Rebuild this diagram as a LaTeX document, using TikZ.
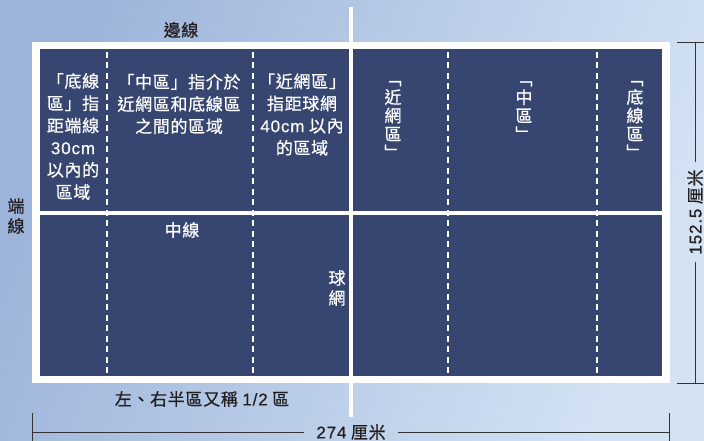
\documentclass[tikz,border=0pt]{standalone}
\usepackage{fontspec}
\setmainfont{Noto Sans CJK TC}[LetterSpace=4, FakeBold=0.6]
\newfontfamily\lat{Liberation Sans}[LetterSpace=5, FakeBold=0.5]
\definecolor{navy}{HTML}{374670}
\definecolor{txtdark}{HTML}{231F20}
\definecolor{bgA}{HTML}{9DB4DA}
\definecolor{bgB}{HTML}{D4E3F4}
\definecolor{dimc}{HTML}{333333}
\tikzset{
  wt/.style={text=white, font=\fontsize{17}{22.2}\selectfont, inner sep=0pt, align=center},
  dk/.style={text=txtdark, font=\fontsize{17}{22}\selectfont, inner sep=0pt, align=center},
  vt/.style={text=white, font=\fontsize{17}{18.5}\selectfont, inner sep=0pt, align=center},
  vd/.style={font=\fontsize{17}{20}\selectfont, inner sep=0pt, align=center},
  zone/.style={white, line width=2pt, dash pattern=on 6pt off 4.5pt},
  wline/.style={white, line width=4pt},
  dim/.style={dimc, line width=0.9pt},
}
\begin{document}
\begin{tikzpicture}[x=1pt,y=-1pt]
\useasboundingbox (0,0) rectangle (704,441);
% background
\shade[left color=bgA, right color=bgB, shading angle=70] (0,0) rectangle (704,441);
% court
\fill[white] (32,42) rectangle (670,383);
\fill[navy] (40,49) rectangle (662,376);
% zone dashed lines
\foreach \xx in {107,253,448,597} \draw[zone] (\xx,52) -- (\xx,376);
% center line
\draw[wline] (40,213) -- (662,213);
% net
\draw[wline] (351,7) -- (351,417);
% left half texts
\node[wt] (t1) at (73,136.5) {「底線\\區」指\\距端線\\{\lat 30cm}\\以內的\\區域};
\node[wt] (t2) at (179,104) {「中區」指介於\\近網區和底線區\\之間的區域};
\node[wt] (t3) at (302,114.5) {「近網區」\\指距球網\\{\lat 40cm} 以內\\的區域};
% right half vertical texts
\node[vt] (v1) at (393,120) {﹁\\近\\網\\區\\﹂};
\node[vt] (v2) at (524,111) {﹁\\中\\區\\﹂};
\node[vt] (v3) at (635,120) {﹁\\底\\線\\區\\﹂};
% labels
\node[dk] (side) at (181,30) {邊線};
\node[wt] (cl) at (182,230) {中線};
\node[vd, text=white] (net) at (337,288) {球\\網};
\node[vd, text=txtdark] (end) at (16,216) {端\\線};
\node[dk] (half) at (202,399) {左、右半區又稱 {\lat 1/2} 區};
% dimensions
\node[dk, inner xsep=12pt] (w) at (351,432) {{\lat 274} 厘米};
\coordinate (wl) at (32,432);
\coordinate (wr) at (669,432);
\draw[dim] (wl) -- (w.west);
\draw[dim] (w.east) -- (wr);
\draw[dim] (32,413) -- (32,441);
\draw[dim] (669,413) -- (669,441);
\node[dk, rotate=90, inner xsep=7pt] (h) at (695,212) {{\lat 152.5} 厘米};
\coordinate (ht) at (695,42);
\coordinate (hb) at (695,383);
\draw[dim] (ht) -- (h.east);
\draw[dim] (h.west) -- (hb);
\draw[dim] (677,42) -- (704,42);
\draw[dim] (677,383) -- (704,383);
\end{tikzpicture}
\end{document}
